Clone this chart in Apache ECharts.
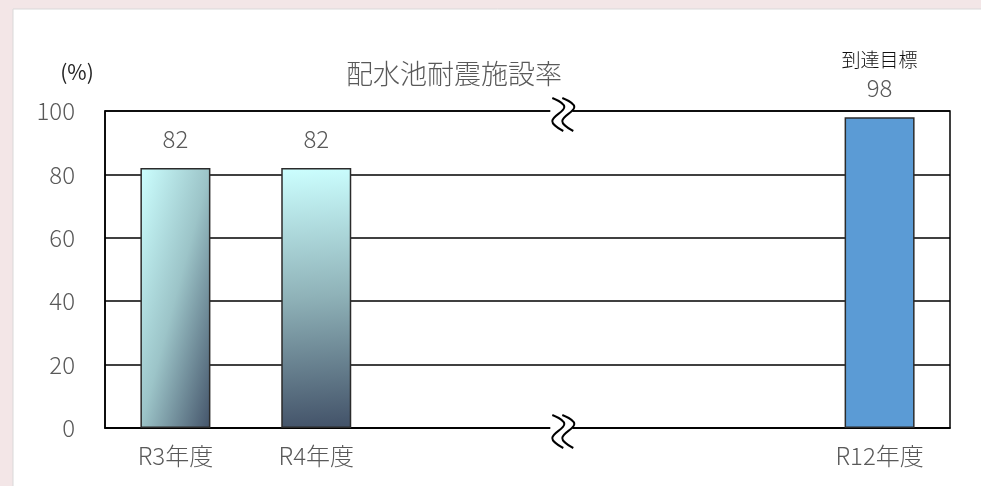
<!DOCTYPE html>
<html><head><meta charset="utf-8">
<script src="https://cdn.jsdelivr.net/npm/echarts@6/dist/echarts.min.js"></script>
<style>html,body{margin:0;padding:0;background:#f3e6e7;}#c{width:981px;height:486px;}</style>
</head><body><div id="c"></div>
<script>
const categories = ['R3年度', 'R4年度', '', '', '', 'R12年度'];
const values = [82, 82, null, null, null, 98];
const yTicks = [0, 20, 40, 60, 80, 100];
const titleText = '配水池耐震施設率';
const unitText = '(%)';
const targetText = '到達目標';

const FONT = '"Noto Sans CJK JP", "Noto Sans", sans-serif';
const chart = echarts.init(document.getElementById('c'), null, {renderer: 'canvas'});

const grads = [
  new echarts.graphic.LinearGradient(0, 0, 1.86, 0.135, [
    {offset: 0, color: '#ccffff'}, {offset: 0.5, color: '#9cc4c8'}, {offset: 1, color: '#44546a'}]),
  new echarts.graphic.LinearGradient(0, 0, 0.25, 1, [
    {offset: 0, color: '#ccffff'}, {offset: 0.5, color: '#8fb2b8'}, {offset: 1, color: '#44546a'}])
];

const barData = values.map((v, i) => {
  if (v == null) return null;
  const item = {value: v, itemStyle: {}};
  if (i === values.length - 1) {
    item.itemStyle.color = '#5b9bd5';
    item.label = {
      show: true, position: 'top', distance: 15,
      formatter: '{a|' + targetText + '}\n{b|{c}}',
      rich: {
        a: {fontSize: 19, color: '#111', lineHeight: 30, fontFamily: FONT},
        b: {fontSize: 24, color: '#595959', lineHeight: 28, fontFamily: FONT, fontWeight: 300}
      }
    };
  } else {
    item.itemStyle.color = grads[i % 2];
  }
  return item;
});

chart.setOption({
  backgroundColor: 'transparent',
  animation: false,
  title: {
    text: titleText, left: 341, top: 55,
    textStyle: {fontFamily: FONT, fontSize: 27, fontWeight: 300, color: '#595959'}
  },
  grid: {left: 105, right: 31, top: 111, bottom: 58, show: true, borderColor: '#000', borderWidth: 1.5, backgroundColor: 'transparent'},
  xAxis: {
    type: 'category', data: categories,
    axisTick: {show: false},
    axisLine: {lineStyle: {color: '#000', width: 1.5}},
    axisLabel: {fontFamily: FONT, fontSize: 24, fontWeight: 300, color: '#595959', margin: 16}
  },
  yAxis: {
    type: 'value', min: yTicks[0], max: yTicks[yTicks.length - 1], interval: yTicks[1] - yTicks[0],
    name: unitText, nameLocation: 'end', nameGap: 28,
    nameTextStyle: {fontFamily: FONT, fontSize: 21, color: '#262626', align: 'center', padding: [0, 0, 0, -56]},
    axisLine: {show: true, lineStyle: {color: '#000', width: 1.5}},
    axisTick: {show: false},
    splitLine: {lineStyle: {color: '#000', width: 1.5}},
    axisLabel: {fontFamily: FONT, fontSize: 24, fontWeight: 300, color: '#595959', margin: 30}
  },
  series: [{
    type: 'bar', data: barData, barWidth: 70,
    itemStyle: {borderColor: '#2b2b2b', borderWidth: 1.5},
    label: {show: true, position: 'top', distance: 17, fontFamily: FONT, fontSize: 24, fontWeight: 300, color: '#595959'}
  }]
});

function breakMark(cx, cy) {
  const s1 = [[-9, -16], [3, -7], [-9, 7], [2, 17]];
  const s2 = s1.map(p => [p[0] + 10, p[1]]);
  const mk = (pts) => ({
    type: 'polyline', z: 100, x: cx, y: cy + 3,
    shape: {points: pts, smooth: 0.4},
    style: {fill: null, stroke: '#000', lineWidth: 2}
  });
  return [
    {type: 'rect', z: 99, shape: {x: cx - 11, y: cy - 3, width: 22, height: 6}, style: {fill: '#fff'}},
    mk(s1), mk(s2)
  ];
}

const p2 = chart.convertToPixel({gridIndex: 0}, [2, yTicks[yTicks.length - 1]]);
const p3 = chart.convertToPixel({gridIndex: 0}, [3, yTicks[0]]);
const bx = p2[0] + 0.74 * (p3[0] - p2[0]);
chart.setOption({
  graphic: [
    {type: 'rect', z: -100, silent: true, shape: {x: 13, y: 9, width: 1000, height: 500},
     style: {fill: '#ffffff', stroke: '#d9d9d9', lineWidth: 1}}
  ].concat(breakMark(bx, p2[1]), breakMark(bx, p3[1]))
});
</script></body></html>
